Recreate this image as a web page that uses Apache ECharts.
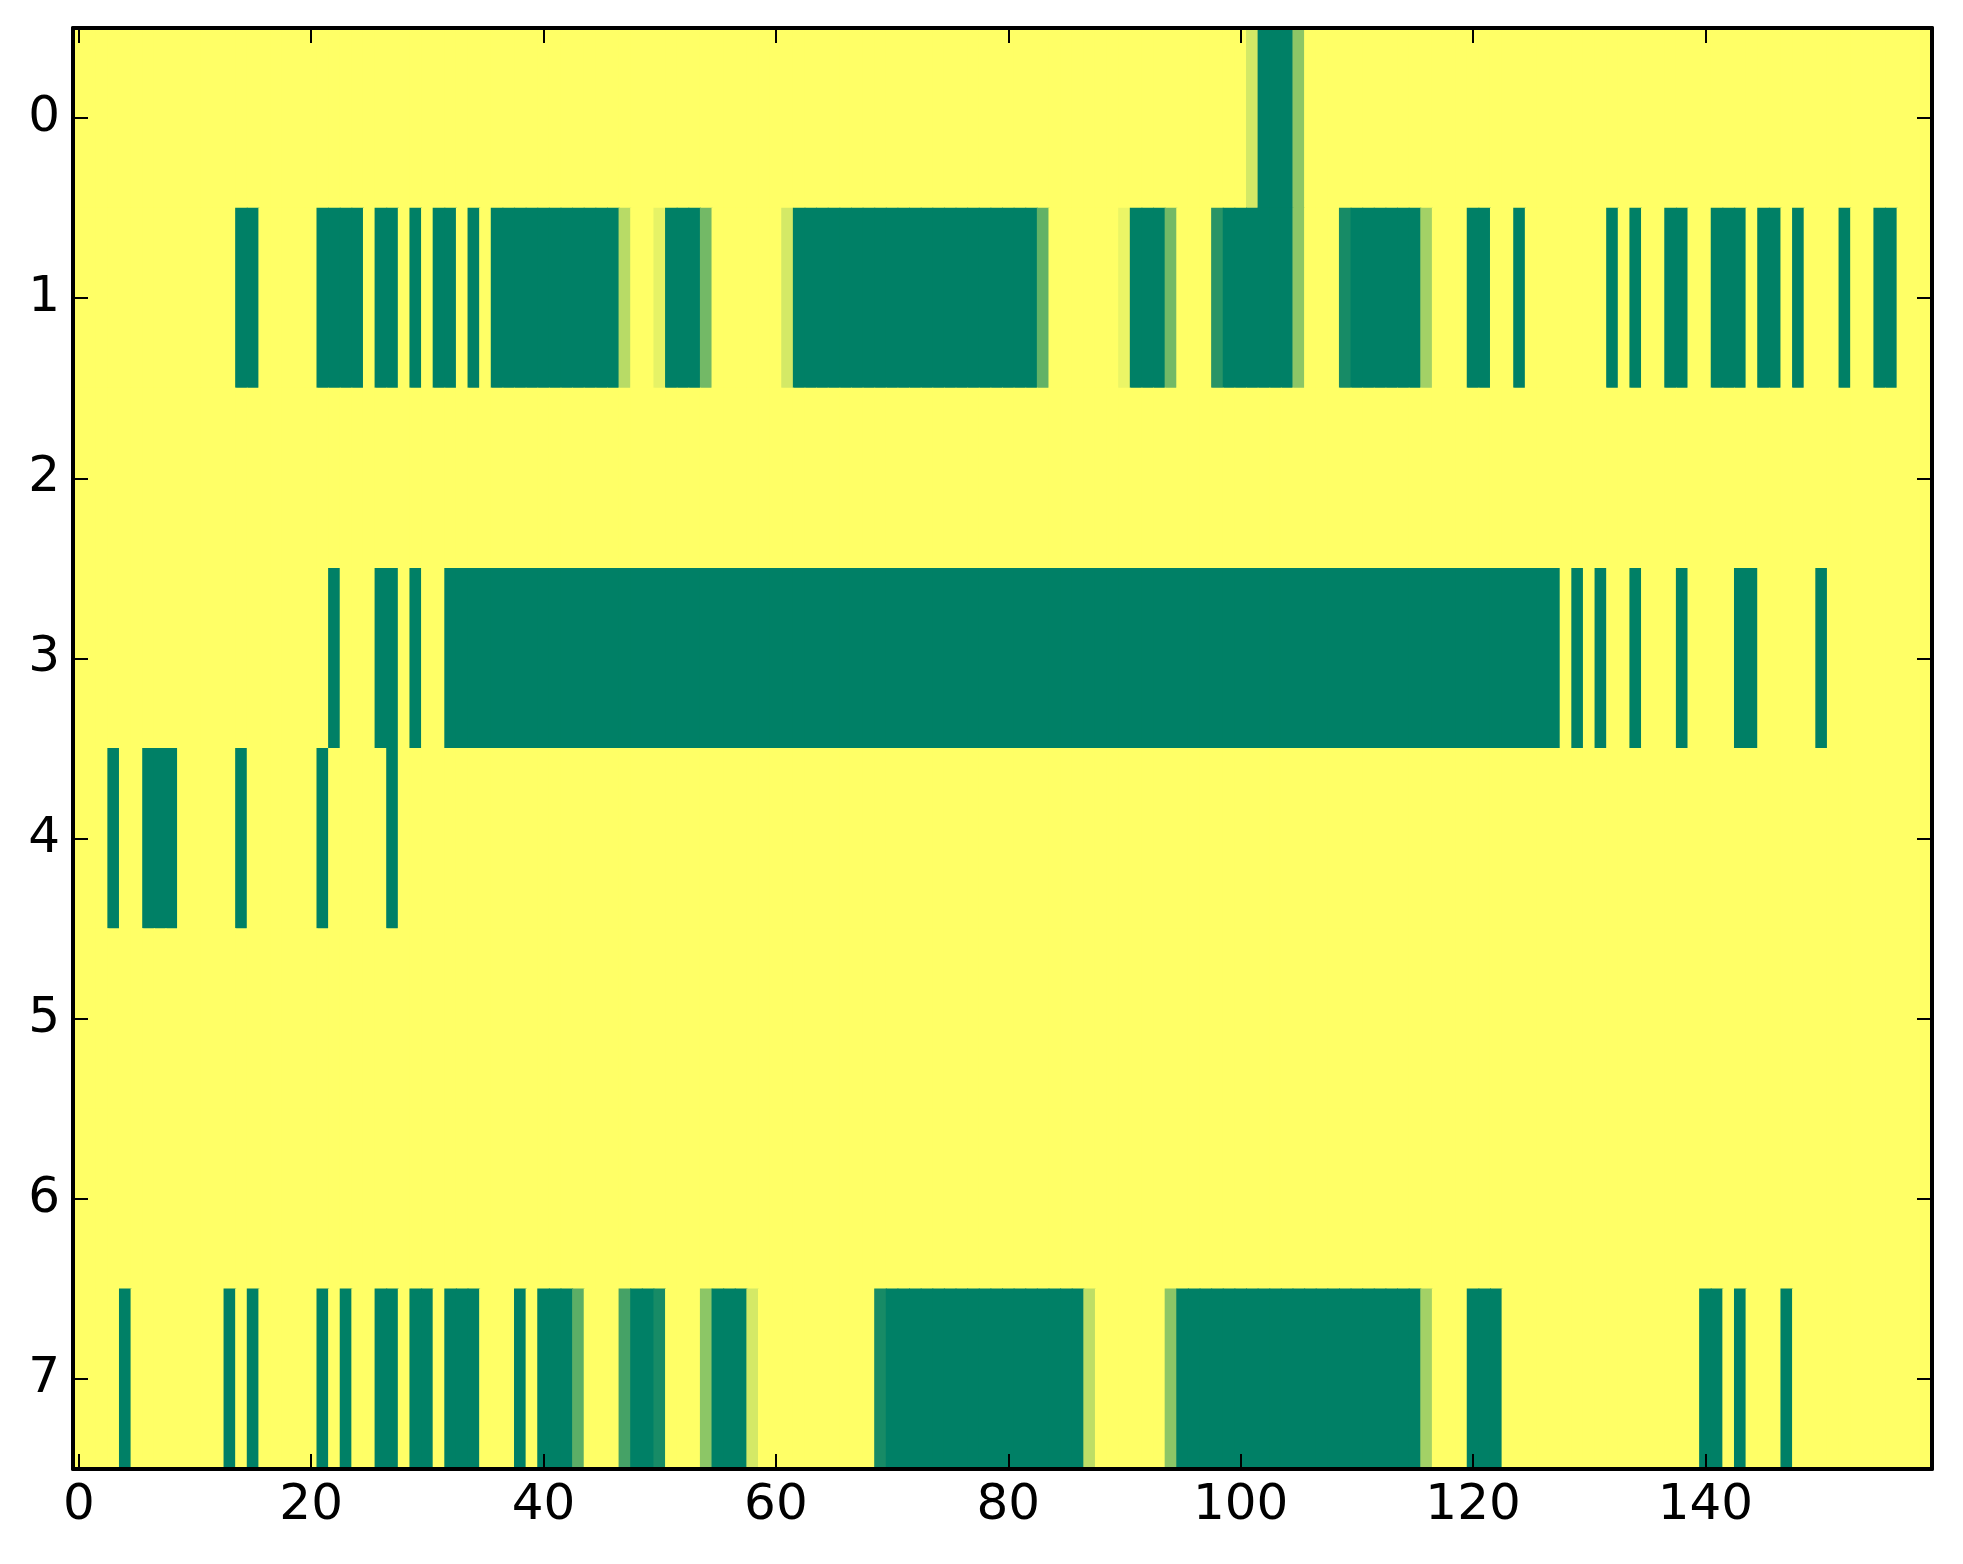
<!DOCTYPE html>
<html><head><meta charset="utf-8">
<script src="https://cdn.jsdelivr.net/npm/echarts@6/dist/echarts.min.js"></script>
<style>html,body{margin:0;padding:0;background:#fff}#c{width:1963px;height:1564px}</style>
</head><body><div id="c"></div>
<script>
// column indices 0..159 (categories)
const xCategories = Array.from({length:160}, (_, i) => String(i));
const yCategories = ['0','1','2','3','4','5','6','7'];
const xTickLabels = ['0','20','40','60','80','100','120','140'];

const row0 = [
0,0,0,0,0,0,0,0,0,0, 0,0,0,0,0,0,0,0,0,0, 0,0,0,0,0,0,0,0,0,0, 0,0,0,0,0,0,0,0,0,0,
0,0,0,0,0,0,0,0,0,0, 0,0,0,0,0,0,0,0,0,0, 0,0,0,0,0,0,0,0,0,0, 0,0,0,0,0,0,0,0,0,0,
0,0,0,0,0,0,0,0,0,0, 0,0,0,0,0,0,0,0,0,0, 0,0.17,1,1,1,0.45,0,0,0,0, 0,0,0,0,0,0,0,0,0,0,
0,0,0,0,0,0,0,0,0,0, 0,0,0,0,0,0,0,0,0,0, 0,0,0,0,0,0,0,0,0,0, 0,0,0,0,0,0,0,0,0,0];
const row1 = [
0,0,0,0,0,0,0,0,0,0, 0,0,0,0,1,1,0,0,0,0, 0,1,1,1,1,0,1,1,0,1, 0,1,1,0,1,0,1,1,1,1,
1,1,1,1,1,1,1,0.28,0,0, 0.1,1,1,1,0.55,0,0,0,0,0, 0,0.17,1,1,1,1,1,1,1,1, 1,1,1,1,1,1,1,1,1,1,
1,1,1,0.61,0,0,0,0,0,0, 0.08,1,1,1,0.55,0,0,0,0.84,1, 1,1,1,1,1,0.45,0,0,0,0.91, 1,1,1,1,1,1,0.36,0,0,0,
1,1,0,0,1,0,0,0,0,0, 0,0,1,0,1,0,0,1,1,0, 0,1,1,1,0,1,1,0,1,0, 0,0,1,0,0,1,1,0,0,0];
const row2 = [
0,0,0,0,0,0,0,0,0,0, 0,0,0,0,0,0,0,0,0,0, 0,0,0,0,0,0,0,0,0,0, 0,0,0,0,0,0,0,0,0,0,
0,0,0,0,0,0,0,0,0,0, 0,0,0,0,0,0,0,0,0,0, 0,0,0,0,0,0,0,0,0,0, 0,0,0,0,0,0,0,0,0,0,
0,0,0,0,0,0,0,0,0,0, 0,0,0,0,0,0,0,0,0,0, 0,0,0,0,0,0,0,0,0,0, 0,0,0,0,0,0,0,0,0,0,
0,0,0,0,0,0,0,0,0,0, 0,0,0,0,0,0,0,0,0,0, 0,0,0,0,0,0,0,0,0,0, 0,0,0,0,0,0,0,0,0,0];
const row3 = [
0,0,0,0,0,0,0,0,0,0, 0,0,0,0,0,0,0,0,0,0, 0,0,1,0,0,0,1,1,0,1, 0,0,1,1,1,1,1,1,1,1,
1,1,1,1,1,1,1,1,1,1, 1,1,1,1,1,1,1,1,1,1, 1,1,1,1,1,1,1,1,1,1, 1,1,1,1,1,1,1,1,1,1,
1,1,1,1,1,1,1,1,1,1, 1,1,1,1,1,1,1,1,1,1, 1,1,1,1,1,1,1,1,1,1, 1,1,1,1,1,1,1,1,1,1,
1,1,1,1,1,1,1,1,0,1, 0,1,0,0,1,0,0,0,1,0, 0,0,0,1,1,0,0,0,0,0, 1,0,0,0,0,0,0,0,0,0];
const row4 = [
0,0,0,1,0,0,1,1,1,0, 0,0,0,0,1,0,0,0,0,0, 0,1,0,0,0,0,0,1,0,0, 0,0,0,0,0,0,0,0,0,0,
0,0,0,0,0,0,0,0,0,0, 0,0,0,0,0,0,0,0,0,0, 0,0,0,0,0,0,0,0,0,0, 0,0,0,0,0,0,0,0,0,0,
0,0,0,0,0,0,0,0,0,0, 0,0,0,0,0,0,0,0,0,0, 0,0,0,0,0,0,0,0,0,0, 0,0,0,0,0,0,0,0,0,0,
0,0,0,0,0,0,0,0,0,0, 0,0,0,0,0,0,0,0,0,0, 0,0,0,0,0,0,0,0,0,0, 0,0,0,0,0,0,0,0,0,0];
const row5 = [
0,0,0,0,0,0,0,0,0,0, 0,0,0,0,0,0,0,0,0,0, 0,0,0,0,0,0,0,0,0,0, 0,0,0,0,0,0,0,0,0,0,
0,0,0,0,0,0,0,0,0,0, 0,0,0,0,0,0,0,0,0,0, 0,0,0,0,0,0,0,0,0,0, 0,0,0,0,0,0,0,0,0,0,
0,0,0,0,0,0,0,0,0,0, 0,0,0,0,0,0,0,0,0,0, 0,0,0,0,0,0,0,0,0,0, 0,0,0,0,0,0,0,0,0,0,
0,0,0,0,0,0,0,0,0,0, 0,0,0,0,0,0,0,0,0,0, 0,0,0,0,0,0,0,0,0,0, 0,0,0,0,0,0,0,0,0,0];
const row6 = [
0,0,0,0,0,0,0,0,0,0, 0,0,0,0,0,0,0,0,0,0, 0,0,0,0,0,0,0,0,0,0, 0,0,0,0,0,0,0,0,0,0,
0,0,0,0,0,0,0,0,0,0, 0,0,0,0,0,0,0,0,0,0, 0,0,0,0,0,0,0,0,0,0, 0,0,0,0,0,0,0,0,0,0,
0,0,0,0,0,0,0,0,0,0, 0,0,0,0,0,0,0,0,0,0, 0,0,0,0,0,0,0,0,0,0, 0,0,0,0,0,0,0,0,0,0,
0,0,0,0,0,0,0,0,0,0, 0,0,0,0,0,0,0,0,0,0, 0,0,0,0,0,0,0,0,0,0, 0,0,0,0,0,0,0,0,0,0];
const row7 = [
0,0,0,0,1,0,0,0,0,0, 0,0,0,1,0,1,0,0,0,0, 0,1,0,1,0,0,1,1,0,1, 1,0,1,1,1,0,0,0,1,0,
1,1,1,0.64,0,0,0,0.73,1,1, 0.91,0,0,0,0.45,1,1,1,0.17,0, 0,0,0,0,0,0,0,0,0,0.91, 1,1,1,1,1,1,1,1,1,1,
1,1,1,1,1,1,1,0.26,0,0, 0,0,0,0,0.45,1,1,1,1,1, 1,1,1,1,1,1,1,1,1,1, 1,1,1,1,1,1,0.36,0,0,0,
1,1,1,0,0,0,0,0,0,0, 0,0,0,0,0,0,0,0,0,0, 1,1,0,1,0,0,0,1,0,0, 0,0,0,0,0,0,0,0,0,0];

const rows = [row0, row1, row2, row3, row4, row5, row6, row7];
const cellData = [];
rows.forEach((r, ri) => r.forEach((v, ci) => cellData.push([ci, ri, v])));

const FONT = 'DejaVu Sans';
const isXTick = (i) => xTickLabels.indexOf(xCategories[i]) >= 0;
const axisLineStyle = {show: true, lineStyle: {color: '#000', width: 4}};
const tickStyle = {color: '#000', width: 2};

const chart = echarts.init(document.getElementById('c'), null, {renderer: 'canvas'});
chart.setOption({
  animation: false,
  backgroundColor: '#ffffff',
  grid: {left: 73, right: 31, top: 28, bottom: 95, containLabel: false},
  xAxis: [
    {type: 'category', data: xCategories, position: 'bottom', z: 10,
     axisLine: axisLineStyle,
     axisTick: {show: true, inside: true, length: 15, alignWithLabel: true, interval: isXTick, lineStyle: tickStyle},
     axisLabel: {show: true, interval: isXTick, color: '#000', fontSize: 50, fontFamily: FONT, margin: 12},
     splitLine: {show: false}},
    {type: 'category', data: xCategories, position: 'top', z: 10,
     axisLine: axisLineStyle,
     axisTick: {show: true, inside: true, length: 15, alignWithLabel: true, interval: isXTick, lineStyle: tickStyle},
     axisLabel: {show: false},
     splitLine: {show: false}}
  ],
  yAxis: [
    {type: 'category', data: yCategories, inverse: true, position: 'left', z: 10,
     axisLine: axisLineStyle,
     axisTick: {show: true, inside: true, length: 15, alignWithLabel: true, lineStyle: tickStyle},
     axisLabel: {show: true, color: '#000', fontSize: 50, fontFamily: FONT, margin: 13},
     splitLine: {show: false}},
    {type: 'category', data: yCategories, inverse: true, position: 'right', z: 10,
     axisLine: axisLineStyle,
     axisTick: {show: true, inside: true, length: 15, alignWithLabel: true, lineStyle: tickStyle},
     axisLabel: {show: false},
     splitLine: {show: false}}
  ],
  visualMap: {show: false, type: 'continuous', min: 0, max: 1, seriesIndex: 0, dimension: 2,
              inRange: {color: ['#ffff66', '#008066']}},
  series: [{
    type: 'custom', xAxisIndex: 0, yAxisIndex: 0, data: cellData,
    encode: {x: 0, y: 1},
    clip: true,
    renderItem: function (params, api) {
      const c = api.coord([api.value(0), api.value(1)]);
      const s = api.size([1, 1]);
      return {
        type: 'rect',
        shape: {x: c[0] - s[0] / 2 - 0.5, y: c[1] - s[1] / 2 - 0.5, width: s[0] + 1, height: s[1] + 1},
        style: {fill: api.visual('color')}
      };
    }
  }]
});
</script>
</body></html>
